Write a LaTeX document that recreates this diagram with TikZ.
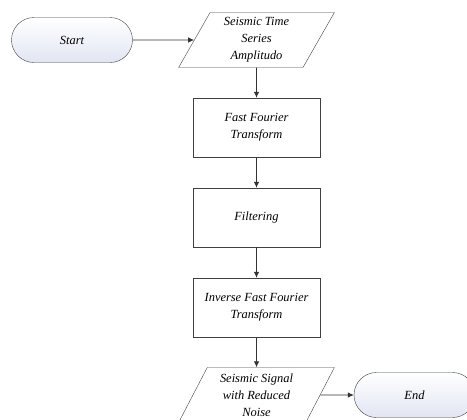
\documentclass[tikz,border=0pt]{standalone}
\usepackage{fontspec}
\setmainfont{Liberation Serif}
\usepackage{tikz}
\usetikzlibrary{shapes.geometric,arrows.meta}
\definecolor{edge}{rgb}{0.25,0.25,0.25}
\definecolor{termfill}{rgb}{0.88,0.90,0.95}
\tikzset{
  term/.style={draw=edge, rounded corners=22.5bp, minimum width=121bp, minimum height=45bp, top color=white, bottom color=termfill},
  io/.style={draw=edge, trapezium, trapezium left angle=64, trapezium right angle=116, trapezium stretches=true, minimum width=156bp, minimum height=55bp, inner sep=1bp},
  proc/.style={draw=edge, rectangle, minimum width=127bp, minimum height=59bp},
  flow/.style={-{Latex[length=6bp,width=5.5bp]}, draw=black!80, line width=0.8bp}
}

\begin{document}
\begin{tikzpicture}[x=1bp, y=1bp, node distance=90bp, font=\fontsize{12.5}{17}\selectfont\itshape, align=center]
\useasboundingbox (-72,40) rectangle (395,-379);
\node[term] (start) at (0,0) {Start};
\node[io, right of=start, xshift=94.5bp] (inp) {Seismic Time\\Series\\Amplitudo};
\node[proc, below of=inp, yshift=2.5bp] (fft) {Fast Fourier\\Transform};
\node[proc, below of=fft] (filt) {Filtering};
\node[proc, below of=filt] (ifft) {Inverse Fast Fourier\\Transform};
\node[io, below of=ifft, yshift=2.5bp] (outp) {Seismic Signal\\with Reduced\\Noise};
\node[term, right of=outp, xshift=68bp] (stop) {End};
\draw [flow] (start) -- (inp);
\draw [flow] (inp) -- (fft);
\draw [flow] (fft) -- (filt);
\draw [flow] (filt) -- (ifft);
\draw [flow] (ifft) -- (outp);
\draw [flow] (outp) -- (stop);
\end{tikzpicture}
\end{document}
